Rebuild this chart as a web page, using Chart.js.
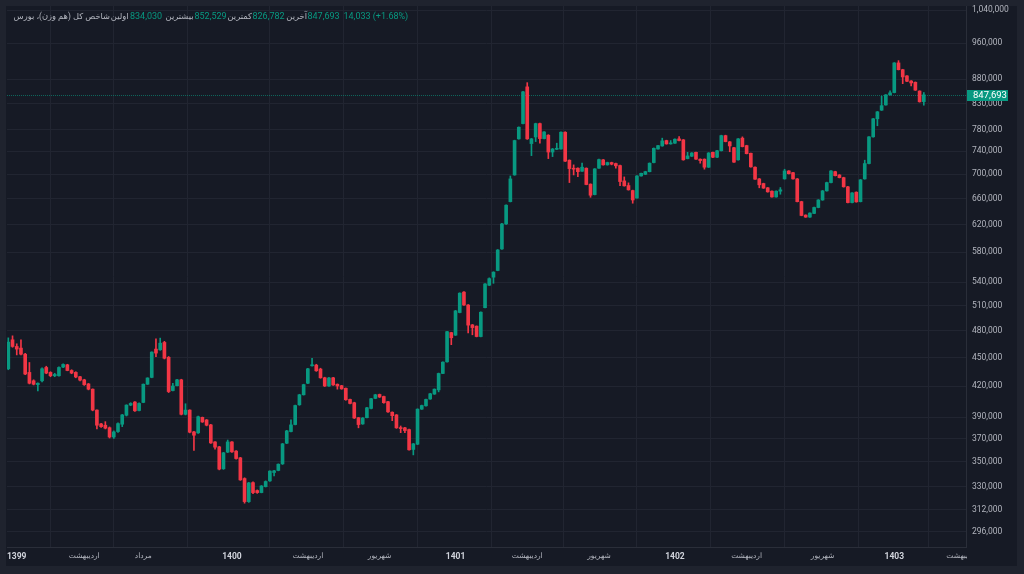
<!DOCTYPE html>
<html><head><meta charset="utf-8">
<script src="https://cdn.jsdelivr.net/npm/chart.js@4.4.1/dist/chart.umd.min.js"></script>
<style>
html,body{margin:0;padding:0;background:#1f232e;overflow:hidden}
canvas{position:absolute;left:0;top:0;width:1024px;height:574px}
</style>
</head><body>
<canvas id="c" width="1024" height="574"></canvas>
<script>
// ---- DATA (weekly candles) ----
const opens = [438100,469800,462300,460500,453800,434300,425600,421700,425600,439500,
434300,430800,430800,439900,442300,436300,434300,429800,426600,422400,
417100,396600,383600,382400,380100,371700,376600,383300,391700,401400,
404400,396200,404000,422100,429100,459400,458600,466800,450400,415700,
420600,426600,392600,396600,376300,375400,389700,387300,382700,367300,
363000,344300,358400,367300,359300,353500,336300,318100,333000,326700,
325100,329800,334400,341200,342900,348400,366200,376600,383000,401700,
411500,423100,441300,442000,437800,428700,420300,428700,422100,420600,
418000,406900,403700,389400,383600,389400,398200,407900,411800,409800,
404700,394600,392000,380200,380000,378400,360700,365300,397500,400700,
407300,412200,416400,433200,445500,478000,475100,501700,527000,510900,
487000,485500,473500,507600,535800,546300,555200,584800,621100,655400,
698900,762400,791000,864200,753800,765900,791000,762900,769200,738600,
743500,744000,774700,724200,710400,710400,705200,710400,683600,666600,
710400,724800,716100,720100,718400,714900,689000,681300,673100,661100,
697200,700000,704500,720100,744000,749500,759300,753200,754500,762400,
760600,727000,731200,738100,726000,726000,712100,738100,729400,740900,
768400,756900,746400,724800,763700,750100,736400,712100,692300,684600,
677600,672100,662800,672100,692300,705700,702800,692300,655400,634500,
631400,637000,646200,658000,672600,686200,704500,698900,694400,679200,
653900,670500,655400,692300,718400,766100,800200,817000,827300,847700,
852400,915500,900700,887300,876500,873800,855500,834030];
const highs = [472000,474300,465300,469800,454700,444800,426600,423400,439200,440800,
435000,433400,440200,443400,442900,437100,435000,430300,427200,422900,
417400,396900,384100,385700,380800,377200,384500,392500,401700,403700,
404700,403700,422400,428700,456400,470900,471700,468100,451300,423100,
427200,427200,402700,396900,376700,391000,390000,387700,383200,367700,
363400,358200,369000,367700,359700,353900,336900,333200,333600,327200,
330700,334400,342600,343000,348400,366000,377700,387300,401400,412000,
422100,438700,449400,442900,438700,429300,429300,429300,422400,421000,
418300,407300,404200,389700,389500,399300,408100,412000,412200,410200,
405100,394900,392400,381700,380400,378800,366000,397800,401400,407300,
413000,417400,433600,445500,479600,478400,504300,526100,527600,511400,
487500,485800,502500,538100,545400,553500,584000,621900,650300,697200,
760000,784700,854900,873000,763300,791800,791800,776100,770100,745000,
754500,775600,775600,724800,716100,710900,719000,710900,684100,709700,
726000,725500,720800,720800,719000,715600,695600,685700,673800,697900,
702200,705200,719500,745900,750800,763700,760000,759300,762400,766600,
761300,738100,737600,738600,726500,726500,737600,738600,741600,769200,
769200,757600,747200,763100,766100,750800,736900,712600,693000,685200,
678200,672600,672600,678000,708600,706200,703500,693000,656000,634900,
638000,646800,658600,673300,686900,706400,705200,699500,695100,679900,
669900,671000,691300,724200,766800,800900,814500,845000,848500,856000,
916200,920600,901600,888200,877300,874500,856000,852529];
const lows = [437100,461400,453000,453000,431900,422400,421400,415400,424500,432900,
429800,429800,430300,439200,436000,432900,428700,425600,420900,416400,
395900,379000,380400,379000,370800,370400,375800,381100,391000,400800,
395400,395900,403700,421900,428700,451100,458000,448600,413700,415400,
420300,392000,392000,375400,359800,374900,385000,381800,366000,361000,
343400,343800,358000,358200,352400,334800,316900,317500,324200,324500,
324900,329500,334000,338500,342600,347900,365800,376300,382700,401200,
411200,422700,440800,435400,428200,419800,419800,420900,417100,417000,
406100,402500,388600,380000,383200,389100,397800,407600,408800,403200,
394400,386600,379500,375600,375600,360000,356000,364900,397200,400400,
407000,411900,414400,432900,445200,464300,474700,501300,510400,477600,
475500,473100,473100,507300,535400,538300,554800,584000,620300,654900,
698400,761800,790400,761500,732200,757400,754500,762400,727000,730500,
742900,743500,721800,686200,698900,696100,704700,682500,662300,666100,
709900,715600,715600,716100,710400,681000,680300,673800,652900,660700,
696700,699500,704000,719500,743500,749000,752700,752700,753900,758700,
724200,726500,730600,725500,719000,708700,711600,728800,728800,740400,
756900,739100,720300,724200,747700,735200,712100,691300,677600,676600,
670500,662300,662300,667200,691800,700500,691800,654900,633400,631000,
631000,636500,645700,657500,672100,685700,697200,693900,678700,653400,
653400,654500,654900,691800,717900,765500,786900,816400,826700,847100,
851800,900100,870900,875300,866200,856800,833000,826782];
const closes = [467200,462300,459400,453800,432600,423100,422100,423100,438100,433600,
430800,432200,439500,442700,436300,433600,429500,426300,421700,417100,
396600,382400,381100,379700,371700,376300,383900,392000,401400,403000,
395900,403000,422100,428500,456100,455000,466000,449400,414700,420300,
426600,392600,396600,376000,373300,390300,385400,382400,366400,362700,
344000,357800,367300,358600,352900,335200,318100,332800,325100,325100,
330300,333900,342400,342600,348100,365600,377200,382700,401000,411500,
421700,438100,442300,436000,428700,420300,428500,421400,420300,417400,
406600,403000,389100,383000,389100,398800,407600,411500,409300,403700,
394900,391300,380000,379300,377500,360400,365600,397500,401000,406900,
412500,417100,433200,445200,479100,472100,503700,525700,510900,486700,
483800,473500,502100,537500,544400,553000,583300,621100,649800,692300,
759300,784100,853900,762400,762400,791000,762900,775200,738600,744000,
745300,774700,722500,709700,708700,704500,712100,683000,665600,709200,
725300,716100,720100,717300,714400,687900,680800,674300,658000,697200,
701700,704500,719000,745300,750100,758700,753200,755000,761800,759300,
724800,731700,736900,726000,723600,712100,736900,729400,740900,768400,
757400,749500,720800,762400,748300,735700,712600,691800,682500,677100,
671000,662800,672100,674300,705700,701000,692300,655400,633900,631400,
637600,646200,658000,672600,686200,705700,697700,694400,679200,653900,
669300,655000,690700,718400,766100,800200,813700,825900,847700,851800,
915500,900700,885100,875900,872400,857400,833660,847693];

// time-axis labels and the bar index where each one sits
const timeTickIndex = [2,18,32,53,71,88,106,123,140,158,175,193,210,226];
const timeTickLabels = ['1399','اردیبهشت','مرداد','1400','اردیبهشت','شهریور','1401','اردیبهشت','شهریور','1402','اردیبهشت','شهریور','1403','اردیبهشت'];
const yearTick = [true,false,false,true,false,false,true,false,false,true,false,false,true,false];
// price-axis tick labels
const priceTicks = [296000,312000,330000,350000,370000,390000,420000,450000,480000,510000,540000,580000,620000,660000,700000,740000,780000,830000,880000,960000,1040000];
// header text
const symbolTitle = 'شاخص کل (هم وزن)، بورس';
const hdrLabels = ['اولین','بیشترین','کمترین','آخرین'];

// ---- STYLE ----
const GREEN = '#089981', RED = '#f23645';
const BG = '#161a25', FRAME = '#1f232e', GRID = '#212531', BORDER = '#2a2e39';
const TXT = '#b2b5be', TXT2 = '#d1d4dc';
const FONT = "Roboto, 'DejaVu Sans', sans-serif";
const N = closes.length;
const fmt = v => Math.round(v).toLocaleString('en-US');
const colorOf = i => closes[i] >= opens[i] ? GREEN : RED;

const bodies = closes.map((c, i) => ({x: i, y: [opens[i], c]}));
const wicks = closes.map((c, i) => ({x: i, y: [lows[i], highs[i]]}));

const framePlugin = {
  id: 'frame',
  beforeDraw(chart) {
    const c = chart.ctx;
    c.save();
    c.fillStyle = FRAME; c.fillRect(0, 0, chart.width, chart.height);
    c.fillStyle = BG; c.fillRect(6, 6, 1011, 560);
    c.restore();
  },
  beforeDatasetsDraw(chart) {
    const c = chart.ctx, a = chart.chartArea, ys = chart.scales.y;
    const py = Math.round(ys.getPixelForValue(closes[N - 1])) + 0.5;
    c.save();
    c.strokeStyle = 'rgba(8,153,129,0.6)'; c.lineWidth = 1; c.setLineDash([1, 1]);
    c.beginPath(); c.moveTo(a.left, py); c.lineTo(a.right, py); c.stroke();
    c.restore();
  },
  afterDraw(chart) {
    const c = chart.ctx, a = chart.chartArea, ys = chart.scales.y;
    c.save();
    // clip the time label that runs under the price scale
    c.fillStyle = BG; c.fillRect(a.right + 1, a.bottom + 1, 1017 - a.right - 1, 566 - a.bottom - 1);
    // last price label
    const py = Math.round(ys.getPixelForValue(closes[N - 1]));
    c.fillStyle = GREEN; c.fillRect(a.right + 1, py - 5, 41, 11);
    c.fillStyle = '#ffffff'; c.font = '9.5px ' + FONT;
    c.textAlign = 'left'; c.textBaseline = 'middle';
    c.fillText(fmt(closes[N - 1]), a.right + 7, py + 0.5);
    // header
    const ty = 17;
    c.textBaseline = 'middle';
    const rtl = (t, x) => { c.font = '8.3px ' + FONT; c.direction = 'rtl'; c.textAlign = 'right'; c.fillStyle = TXT; c.fillText(t, x, ty); c.direction = 'ltr'; };
    const num = (t, x) => { c.font = '9px ' + FONT; c.textAlign = 'left'; c.fillStyle = GREEN; c.fillText(t, x, ty); };
    rtl(symbolTitle, 110);
    rtl(hdrLabels[0], 128.5); num(fmt(opens[N - 1]), 130);
    rtl(hdrLabels[1], 193.5); num(fmt(highs[N - 1]), 194.5);
    rtl(hdrLabels[2], 252); num(fmt(lows[N - 1]), 252.5);
    rtl(hdrLabels[3], 307); num(fmt(closes[N - 1]), 307.5);
    const ch = closes[N - 1] - closes[N - 2];
    num(fmt(ch) + ' (+' + (ch / closes[N - 2] * 100).toFixed(2) + '%)', 343.5);
    c.restore();
  }
};

new Chart(document.getElementById('c'), {
  type: 'bar',
  data: {
    datasets: [
      {data: wicks, barThickness: 1, minBarLength: 1, grouped: false, order: 2,
       backgroundColor: ctx => colorOf(ctx.dataIndex), borderWidth: 0},
      {data: bodies, barThickness: 3, minBarLength: 1, grouped: false, order: 1,
       backgroundColor: ctx => colorOf(ctx.dataIndex), borderWidth: 0}
    ]
  },
  options: {
    responsive: false, animation: false, devicePixelRatio: 1,
    layout: {padding: {left: 7, top: 6, right: 7, bottom: 8}},
    plugins: {legend: {display: false}, tooltip: {enabled: false}},
    scales: {
      x: {
        type: 'linear', position: 'bottom', min: -0.31, max: 227, offset: false,
        afterBuildTicks: s => { s.ticks = timeTickIndex.map(v => ({value: v})); },
        afterFit: s => { s.height = 19; s.paddingLeft = 0; s.paddingRight = 0; },
        grid: {color: GRID, drawTicks: false},
        border: {display: true, color: BORDER},
        ticks: {
          autoSkip: false, maxRotation: 0, minRotation: 0, padding: 5,
          callback: (v, i) => timeTickLabels[i],
          font: ctx => yearTick[ctx.index] ? {size: 8.5, family: FONT, weight: 'bold'} : {size: 7.5, family: FONT, weight: 'normal'},
          color: ctx => yearTick[ctx.index] ? TXT2 : TXT
        }
      },
      y: {
        type: 'logarithmic', position: 'right', min: 285150, max: 1050100,
        afterBuildTicks: s => { s.ticks = priceTicks.map(v => ({value: v})); },
        afterFit: s => { s.width = 51; s.paddingTop = 0; s.paddingBottom = 0; },
        grid: {color: GRID, drawTicks: false},
        border: {display: true, color: BORDER},
        ticks: {
          autoSkip: false, padding: 6, color: TXT,
          font: {size: 8.5, family: FONT},
          callback: v => fmt(v)
        }
      }
    }
  },
  plugins: [framePlugin]
});
</script>
</body></html>
